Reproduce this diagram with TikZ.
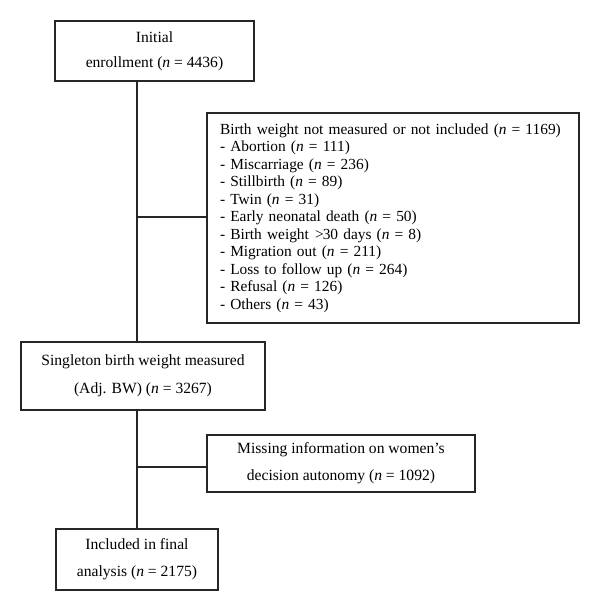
\documentclass[tikz,border=0pt]{standalone}
\usepackage{fontspec}
\setmainfont{Liberation Serif}
\begin{document}
\begin{tikzpicture}[x=1pt,y=-1pt,
  every node/.style={font=\fontsize{15.6}{27}\selectfont, text=black},
  box/.style={draw=black!85, line width=1.1pt, align=center, inner sep=0pt},
  link/.style={draw=black!85, line width=1.1pt}]
\useasboundingbox (0,0) rectangle (600,611);
\node[box, minimum width=199pt, minimum height=60pt, font=\fontsize{15.6}{25}\selectfont] (init) at (154.5,51)
  {Initial\\enrollment (\textit{n} = 4436)};
\node[box, minimum height=210pt, text width=346pt, inner xsep=13pt, align=left, font=\fontsize{15.4}{17.5}\selectfont] (excl) at (393,218)
  {Birth weight not measured or not included (\textit{n} = 1169)\\
   - Abortion (\textit{n} = 111)\\
   - Miscarriage (\textit{n} = 236)\\
   - Stillbirth (\textit{n} = 89)\\
   - Twin (\textit{n} = 31)\\
   - Early neonatal death (\textit{n} = 50)\\
   - Birth weight \kern1pt>\kern-1pt30 days (\textit{n} = 8)\\
   - Migration out (\textit{n} = 211)\\
   - Loss to follow up (\textit{n} = 264)\\
   - Refusal (\textit{n} = 126)\\
   - Others (\textit{n} = 43)};
\node[box, minimum width=244pt, minimum height=68pt, font=\fontsize{15.6}{28}\selectfont] (single) at (143,376)
  {Singleton birth weight measured\\(Adj. BW) (\textit{n} = 3267)};
\node[box, minimum width=268pt, minimum height=57pt] (miss) at (341,463.5)
  {Missing information on women’s\\decision autonomy (\textit{n} = 1092)};
\node[box, minimum width=162pt, minimum height=61pt] (final) at (137,559.5)
  {Included in final\\analysis (\textit{n} = 2175)};
\coordinate (t1) at (137,81);
\coordinate (t2) at (137,342);
\coordinate (j1) at (137,217);
\coordinate (t3) at (137,410);
\coordinate (t4) at (137,529);
\coordinate (j2) at (137,467);
\draw[link] (t1) -- (t2);
\draw[link] (j1) -- (j1 -| excl.west);
\draw[link] (t3) -- (t4);
\draw[link] (j2) -- (j2 -| miss.west);
\end{tikzpicture}
\end{document}
